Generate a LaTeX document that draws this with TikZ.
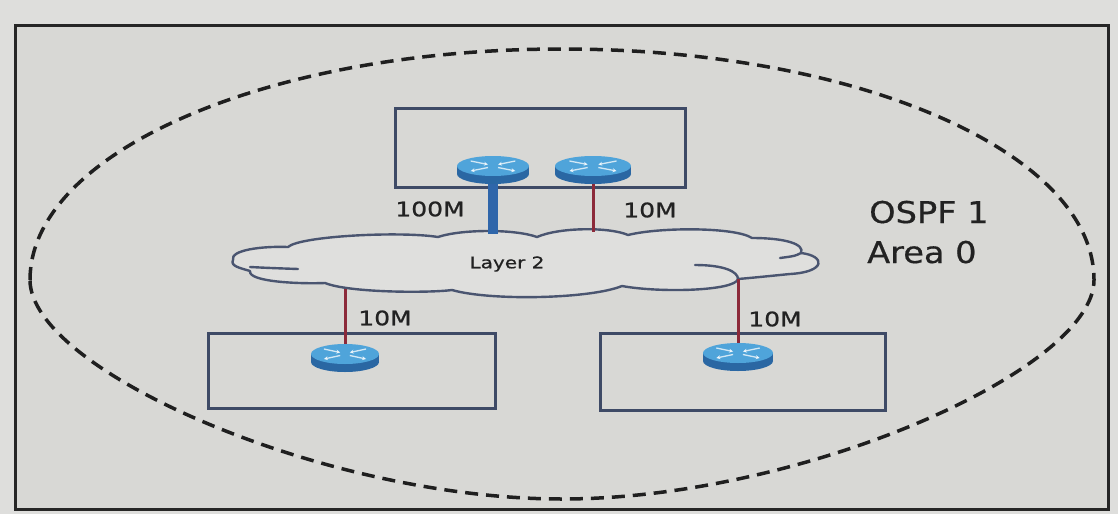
\documentclass[tikz,border=0pt]{standalone}
\usepackage{fontspec}
\usepackage{graphicx}
\setmainfont{DejaVu Sans}
\newfontfamily\lblfont[FakeBold=0.8]{DejaVu Sans}
\newfontfamily\arealblfont[FakeBold=0.5]{DejaVu Sans}
\usetikzlibrary{arrows.meta}
\definecolor{outbg}{HTML}{DEDEDC}
\definecolor{inbg}{HTML}{D8D8D5}
\definecolor{framec}{HTML}{262626}
\definecolor{boxc}{HTML}{3E4A66}
\definecolor{cloudc}{HTML}{4A5570}
\definecolor{cloudfill}{HTML}{DFDFDD}
\definecolor{rtop}{HTML}{4FA4DA}
\definecolor{rside}{HTML}{2A67A3}
\definecolor{redl}{HTML}{8C2A3A}
\definecolor{bluel}{HTML}{2F66AA}
\definecolor{txt}{HTML}{222222}
\tikzset{
  sitebox/.style={draw=boxc, line width=3pt},
  cloudline/.style={draw=cloudc, line width=2.4pt, line join=round, line cap=round},
  redlink/.style={draw=redl, line width=3pt},
  bluelink/.style={draw=bluel, line width=10pt},
  arealine/.style={draw=black!88, line width=3.5pt, dash pattern=on 13pt off 8pt},
  speedlabel/.style={text=txt, inner sep=0pt, font=\lblfont\fontsize{20}{24}\selectfont},
  arealabel/.style={text=txt, inner sep=0pt, anchor=base west, font=\arealblfont\fontsize{30}{36}\selectfont},
  rarrow/.style={draw=white, opacity=0.75, line width=1.3pt, -{Stealth[length=4pt,width=4pt]}},
  pics/router/.style={code={
    \fill[rside] (-#1,-3) rectangle (#1,5);
    \fill[rside] (0,5) ellipse [x radius=#1, y radius=10];
    \fill[rtop] (0,-3) ellipse [x radius=#1, y radius=10];
    \draw[rarrow] (-0.62*#1,-8) -- (-0.14*#1,-4.5);
    \draw[rarrow] (0.62*#1,-8) -- (0.14*#1,-4.5);
    \draw[rarrow] (-0.14*#1,-1.5) -- (-0.62*#1,2);
    \draw[rarrow] (0.14*#1,-1.5) -- (0.62*#1,2);
  }}
}
\begin{document}
\begin{tikzpicture}[x=1pt, y=-1pt]
\useasboundingbox (0,0) rectangle (1118,514);
\fill[outbg] (0,0) rectangle (1118,514);
\fill[inbg] (15,25) rectangle (1108,509);
\draw[line width=3pt, draw=framec] (15,25) rectangle (1108,509);

% OSPF area
\draw[arealine] (30,280) .. controls (30,152) and (268,49) .. (562,49)
  .. controls (856,49) and (1094,152) .. (1094,280)
  .. controls (1094,370) and (800,499) .. (562,499)
  .. controls (324,499) and (30,370) .. cycle;

% sites
\draw[sitebox] (395,108) rectangle (685,187);
\draw[sitebox] (208,333) rectangle (495,408);
\draw[sitebox] (600,333) rectangle (885,410);

% cloud
\path[cloudline, fill=cloudfill] (233,260)
  .. controls (230,250) and (262,246) .. (288,247)
  .. controls (300,236) and (400,231) .. (438,237)
  .. controls (462,229) and (515,229) .. (537,237)
  .. controls (560,227) and (610,227) .. (628,235)
  .. controls (660,227) and (735,227) .. (752,238)
  .. controls (785,238) and (805,244) .. (801,253)
  .. controls (826,256) and (826,272) .. (790,274)
  .. controls (770,276) and (750,278) .. (738,279)
  .. controls (735,291) and (660,293) .. (622,286)
  .. controls (590,299) and (490,301) .. (452,290)
  .. controls (430,293) and (350,293) .. (325,283)
  .. controls (300,284) and (248,282) .. (250,271)
  .. controls (240,268) and (230,266) .. cycle;
\draw[cloudline] (250,267) .. controls (270,268) .. (298,269);
\draw[cloudline] (801,253) .. controls (795,256) .. (780,258);
\draw[cloudline] (695,265) .. controls (725,265) and (738,272) .. (738,279);
\node[text=txt, inner sep=0pt, font=\lblfont\fontsize{16}{19}\selectfont] (cloudlabel) at (507,264) {\scalebox{1.25}[1]{Layer 2}};

% routers
\coordinate (r1) at (493,169);
\coordinate (r2) at (593,169);
\coordinate (r3) at (345,357);
\coordinate (r4) at (738,356);

% attachment points on the cloud
\coordinate (ca) at (493,234);
\coordinate (cb) at (593,232);
\coordinate (cc) at (345,289);
\coordinate (cd) at (738,279);

% links
\draw[bluelink] (r1) -- (ca);
\draw[redlink] (r2) -- (cb);
\draw[redlink] (cc) -- (r3);
\draw[redlink] (cd) -- (r4);

\pic at (r1) {router=36};
\pic at (r2) {router=38};
\pic at (r3) {router=34};
\pic at (r4) {router=35};

% labels
\node[speedlabel] (l1) at (430,209) {\scalebox{1.25}[1]{100M}};
\node[speedlabel] (l2) at (650,210) {\scalebox{1.25}[1]{10M}};
\node[speedlabel] (l3) at (385,318) {\scalebox{1.25}[1]{10M}};
\node[speedlabel] (l4) at (775,319) {\scalebox{1.25}[1]{10M}};
\node[arealabel] (ospf) at (869,223) {\scalebox{1.12}[1]{OSPF 1}};
\node[arealabel] (area) at (867,263) {\scalebox{1.12}[1]{Area 0}};
\end{tikzpicture}
\end{document}
